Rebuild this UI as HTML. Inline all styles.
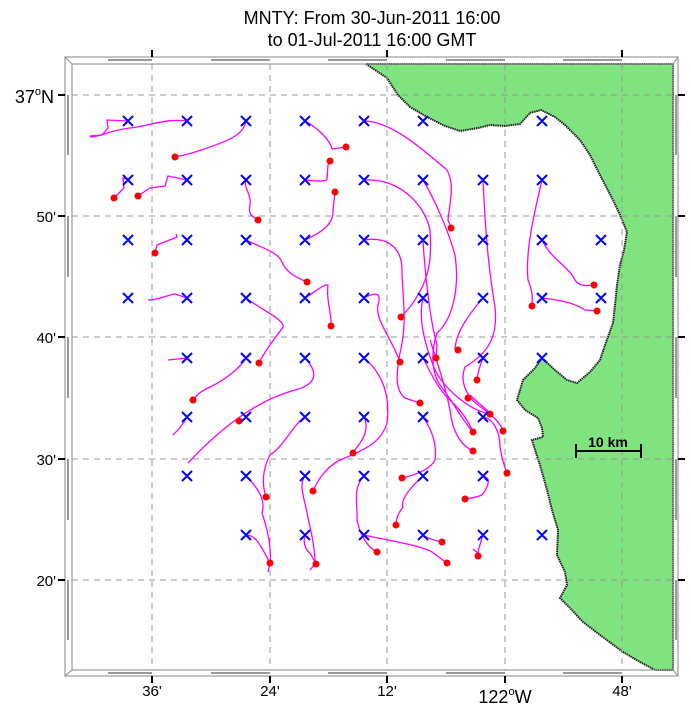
<!DOCTYPE html>
<html><head><meta charset="utf-8"><style>
body{margin:0;background:#fff;}
svg{display:block;font-family:"Liberation Sans",sans-serif;}
</style></head><body>
<svg width="691" height="710" viewBox="0 0 691 710" xmlns="http://www.w3.org/2000/svg">
<rect width="691" height="710" fill="#fff"/>
<text x="372" y="24" font-size="18" text-anchor="middle">MNTY: From 30-Jun-2011 16:00</text>
<text x="372" y="46" font-size="18" text-anchor="middle">to 01-Jul-2011 16:00 GMT</text>

<polygon fill="#7fe47f" stroke="#222" stroke-width="2" stroke-dasharray="1.5 0.7" points="366,64 375,70 387,78 398,95 410,107 427,117 445,126 460,131 478,128 490,125 505,126 520,124 530,113 541,110 555,117 565,125 580,140 590,155 600,175 613,200 620,215 627,232 624,250 620,265 617,285 615,305 613,323 605,345 600,360 590,372 577,383 567,380 555,370 542,358 535,368 523,380 517,400 525,410 538,418 542,428 543,437 532,440 535,450 540,465 547,490 552,510 558,530 557,555 565,572 567,585 560,598 570,608 583,622 600,635 623,652 640,662 655,670 673,670 673,64"/>

<g stroke="#999" stroke-width="1" stroke-dasharray="6 5" fill="none">
<line x1="152" y1="64" x2="152" y2="670"/><line x1="270" y1="64" x2="270" y2="670"/>
<line x1="387" y1="64" x2="387" y2="670"/><line x1="505" y1="64" x2="505" y2="670"/>
<line x1="622" y1="64" x2="622" y2="670"/>
<line x1="72" y1="95" x2="673" y2="95"/><line x1="72" y1="216" x2="673" y2="216"/>
<line x1="72" y1="337" x2="673" y2="337"/><line x1="72" y1="459" x2="673" y2="459"/>
<line x1="72" y1="580" x2="673" y2="580"/>
</g>

<g fill="none" stroke="#999" stroke-width="1.2">
<rect x="65" y="57" width="613" height="619"/>
<rect x="72" y="64" width="601" height="606"/>
<line x1="65" y1="57" x2="72" y2="64"/><line x1="678" y1="57" x2="673" y2="64"/>
<line x1="65" y1="676" x2="72" y2="670"/><line x1="678" y1="676" x2="673" y2="670"/>
</g>
<g stroke="#777" stroke-width="1.5">
<line x1="68" y1="95" x2="68" y2="155"/><line x1="68" y1="216" x2="68" y2="277"/><line x1="68" y1="337" x2="68" y2="398"/><line x1="68" y1="459" x2="68" y2="520"/><line x1="68" y1="580" x2="68" y2="640"/>
<line x1="676" y1="95" x2="676" y2="155"/><line x1="676" y1="216" x2="676" y2="277"/><line x1="676" y1="337" x2="676" y2="398"/><line x1="676" y1="459" x2="676" y2="520"/><line x1="676" y1="580" x2="676" y2="640"/>
<line x1="108" y1="60" x2="152" y2="60"/><line x1="211" y1="60" x2="270" y2="60"/><line x1="328" y1="60" x2="387" y2="60"/><line x1="446" y1="60" x2="505" y2="60"/><line x1="563" y1="60" x2="622" y2="60"/>
<line x1="108" y1="673" x2="152" y2="673"/><line x1="211" y1="673" x2="270" y2="673"/><line x1="328" y1="673" x2="387" y2="673"/><line x1="446" y1="673" x2="505" y2="673"/><line x1="563" y1="673" x2="622" y2="673"/>
</g>
<g stroke="#000" stroke-width="2">
<line x1="58" y1="95" x2="65" y2="95"/><line x1="58" y1="216" x2="65" y2="216"/><line x1="58" y1="337" x2="65" y2="337"/><line x1="58" y1="459" x2="65" y2="459"/><line x1="58" y1="580" x2="65" y2="580"/>
<line x1="678" y1="95" x2="685" y2="95"/><line x1="678" y1="216" x2="685" y2="216"/><line x1="678" y1="337" x2="685" y2="337"/><line x1="678" y1="459" x2="685" y2="459"/><line x1="678" y1="580" x2="685" y2="580"/>
<line x1="152" y1="50" x2="152" y2="57"/><line x1="387" y1="50" x2="387" y2="57"/><line x1="622" y1="50" x2="622" y2="57"/>
<line x1="152" y1="676" x2="152" y2="683"/><line x1="270" y1="676" x2="270" y2="683"/><line x1="387" y1="676" x2="387" y2="683"/><line x1="505" y1="676" x2="505" y2="683"/><line x1="622" y1="676" x2="622" y2="683"/>
</g>
<g font-size="15" text-anchor="end">
<text x="54" y="103" font-size="18">37<tspan font-size="11" dy="-8">o</tspan><tspan dy="8">N</tspan></text>
<text x="56" y="222">50'</text><text x="56" y="343">40'</text><text x="56" y="465">30'</text><text x="56" y="586">20'</text>
</g>
<g font-size="15" text-anchor="middle">
<text x="152" y="696">36'</text><text x="270" y="696">24'</text><text x="387" y="696">12'</text><text x="622" y="696">48'</text>
<text x="505" y="703" font-size="18">122<tspan font-size="11" dy="-8">o</tspan><tspan dy="8">W</tspan></text>
</g>

<g stroke="#000" stroke-width="2"><line x1="576" y1="451" x2="641" y2="451"/><line x1="576" y1="444" x2="576" y2="458"/><line x1="641" y1="444" x2="641" y2="458"/></g>
<text x="608" y="447" font-size="14" font-weight="bold" text-anchor="middle">10 km</text>

<g fill="none" stroke="#f0f" stroke-width="1.3">
<path d="M128,121 L107,120 L108,128 L102,135 L90,136"/>
<path d="M187,121 C165,118 150,126 130,128 S100,137 90,137"/>
<path d="M246,121 C244,134 230,140 210,147 S185,155 175,157"/>
<path d="M305,121 C318,128 330,140 332,149 L346,147"/>
<path d="M128,180 L123,178 L124,188 L114,198"/>
<path d="M187,180 L168,176 L165,186 L150,188 L138,196"/>
<path d="M246,180 C243,187 252,195 250,205 S252,216 258,220"/>
<path d="M305,180 C315,181 327,182 327,179 L328,165 L330,161"/>
<path d="M305,240 C320,233 334,225 333,210 L335,192"/>
<path d="M176,234 L177,237 L157,245 L155,253"/>
<path d="M246,240 C262,248 278,252 282,262 S295,277 307,282"/>
<path d="M305,298 C315,292 325,283 328,285 C326,300 332,315 331,326"/>
<path d="M148,300 C160,300 170,294 175,294 L187,298"/>
<path d="M246,298 C262,310 285,320 283,327 C278,335 268,345 259,363"/>
<path d="M168,360 L187,358"/>
<path d="M246,358 C240,368 225,380 210,387 S196,398 193,400"/>
<path d="M305,358 C318,372 318,384 295,390 C265,398 230,418 188,463"/>
<path d="M187,417 C183,425 178,430 173,435"/>
<path d="M364,121 C390,121 420,147 447,170 C455,185 450,200 448,220 L451,227"/>
<path d="M364,180 C400,178 425,205 430,230 C432,260 430,280 410,307 L401,317"/>
<path d="M423,180 C435,200 448,230 455,255 C460,290 452,320 437,333 C432,348 430,370 440,385 C452,400 462,420 473,432"/>
<path d="M364,240 C390,236 402,250 402,270 C402,295 408,320 400,353 C396,375 395,390 405,398 L420,403"/>
<path d="M364,298 C375,292 382,292 378,305 C375,320 390,335 400,362"/>
<path d="M423,240 C425,275 430,320 437,345 L436,358"/>
<path d="M423,298 C418,320 425,345 435,370 C445,390 470,410 489,414"/>
<path d="M483,180 C485,220 487,260 495,307 C498,335 490,352 465,367 C460,380 465,395 478,405 C492,415 500,422 503,431"/>
<path d="M483,298 C470,313 457,330 455,348 L458,350"/>
<path d="M483,358 C480,365 478,372 477,380"/>
<path d="M542,180 C535,210 525,250 528,280 C534,295 532,300 532,306"/>
<path d="M542,240 C550,258 570,268 575,280 C580,288 590,285 594,285"/>
<path d="M542,298 C560,300 575,303 585,310 L597,311"/>
<path d="M423,358 C432,375 438,390 453,403 C460,410 468,420 473,432"/>
<path d="M430,340 C438,365 445,385 450,410 C452,430 460,445 473,451"/>
<path d="M483,417 C492,418 500,430 500,447 C502,460 505,468 507,473"/>
<path d="M470,395 C480,405 488,410 490,414"/>
<path d="M305,417 C295,422 285,445 270,455 C262,470 262,485 266,497"/>
<path d="M364,417 C370,430 362,442 353,452"/>
<path d="M364,358 C385,375 390,400 387,423 C382,440 370,448 340,460 C325,468 318,480 313,491"/>
<path d="M246,476 C258,488 266,500 262,513 C266,525 272,545 270,563"/>
<path d="M246,535 C255,535 260,545 263,550 L270,563 L268,572"/>
<path d="M305,476 C298,485 305,500 307,513 C310,528 315,545 315,564 L310,570"/>
<path d="M305,535 C302,545 308,552 310,553 L316,564"/>
<path d="M364,476 C352,488 358,505 357,520 C360,535 368,548 377,552"/>
<path d="M364,535 C385,540 420,545 432,552 C440,558 445,562 447,563"/>
<path d="M423,476 C410,488 400,500 403,507 C397,515 396,520 396,525"/>
<path d="M423,417 C432,430 437,445 435,460 C430,470 415,475 402,478"/>
<path d="M423,535 C430,540 438,541 442,542"/>
<path d="M483,535 C480,545 478,550 478,553 L473,549"/>
<path d="M483,476 C492,478 488,487 482,495 C475,498 470,498 465,499"/>
</g>

<g fill="#f00">
<circle cx="175" cy="157" r="3.5"/><circle cx="346" cy="147" r="3.5"/><circle cx="114" cy="198" r="3.5"/><circle cx="138" cy="196" r="3.5"/>
<circle cx="258" cy="220" r="3.5"/><circle cx="330" cy="161" r="3.5"/><circle cx="335" cy="192" r="3.5"/><circle cx="451" cy="228" r="3.5"/>
<circle cx="155" cy="253" r="3.5"/><circle cx="307" cy="282" r="3.5"/><circle cx="331" cy="326" r="3.5"/><circle cx="401" cy="317" r="3.5"/>
<circle cx="436" cy="358" r="3.5"/><circle cx="458" cy="350" r="3.5"/><circle cx="532" cy="306" r="3.5"/><circle cx="594" cy="285" r="3.5"/>
<circle cx="597" cy="311" r="3.5"/><circle cx="259" cy="363" r="3.5"/><circle cx="193" cy="400" r="3.5"/><circle cx="239" cy="421" r="3.5"/>
<circle cx="400" cy="362" r="3.5"/><circle cx="420" cy="403" r="3.5"/><circle cx="477" cy="380" r="3.5"/><circle cx="468" cy="398" r="3.5"/>
<circle cx="490" cy="414" r="3.5"/><circle cx="473" cy="432" r="3.5"/><circle cx="503" cy="431" r="3.5"/><circle cx="473" cy="451" r="3.5"/>
<circle cx="507" cy="473" r="3.5"/><circle cx="353" cy="453" r="3.5"/><circle cx="313" cy="491" r="3.5"/><circle cx="266" cy="497" r="3.5"/>
<circle cx="465" cy="499" r="3.5"/><circle cx="402" cy="478" r="3.5"/><circle cx="396" cy="525" r="3.5"/><circle cx="442" cy="542" r="3.5"/>
<circle cx="377" cy="552" r="3.5"/><circle cx="270" cy="563" r="3.5"/><circle cx="316" cy="564" r="3.5"/><circle cx="447" cy="563" r="3.5"/>
<circle cx="478" cy="556" r="3.5"/>
</g>

<g stroke="#00f" stroke-width="2" fill="none">
<path d="M123,116l10,10m0,-10l-10,10M182,116l10,10m0,-10l-10,10M241,116l10,10m0,-10l-10,10M300,116l10,10m0,-10l-10,10M359,116l10,10m0,-10l-10,10M418,116l10,10m0,-10l-10,10M537,116l10,10m0,-10l-10,10"/>
<path d="M123,175l10,10m0,-10l-10,10M182,175l10,10m0,-10l-10,10M241,175l10,10m0,-10l-10,10M300,175l10,10m0,-10l-10,10M359,175l10,10m0,-10l-10,10M418,175l10,10m0,-10l-10,10M478,175l10,10m0,-10l-10,10M537,175l10,10m0,-10l-10,10"/>
<path d="M123,235l10,10m0,-10l-10,10M182,235l10,10m0,-10l-10,10M241,235l10,10m0,-10l-10,10M300,235l10,10m0,-10l-10,10M359,235l10,10m0,-10l-10,10M418,235l10,10m0,-10l-10,10M478,235l10,10m0,-10l-10,10M537,235l10,10m0,-10l-10,10M596,235l10,10m0,-10l-10,10"/>
<path d="M123,293l10,10m0,-10l-10,10M182,293l10,10m0,-10l-10,10M241,293l10,10m0,-10l-10,10M300,293l10,10m0,-10l-10,10M359,293l10,10m0,-10l-10,10M418,293l10,10m0,-10l-10,10M478,293l10,10m0,-10l-10,10M537,293l10,10m0,-10l-10,10M596,293l10,10m0,-10l-10,10"/>
<path d="M182,353l10,10m0,-10l-10,10M241,353l10,10m0,-10l-10,10M300,353l10,10m0,-10l-10,10M359,353l10,10m0,-10l-10,10M418,353l10,10m0,-10l-10,10M478,353l10,10m0,-10l-10,10M537,353l10,10m0,-10l-10,10"/>
<path d="M182,412l10,10m0,-10l-10,10M241,412l10,10m0,-10l-10,10M300,412l10,10m0,-10l-10,10M359,412l10,10m0,-10l-10,10M418,412l10,10m0,-10l-10,10M478,412l10,10m0,-10l-10,10"/>
<path d="M182,471l10,10m0,-10l-10,10M241,471l10,10m0,-10l-10,10M300,471l10,10m0,-10l-10,10M359,471l10,10m0,-10l-10,10M418,471l10,10m0,-10l-10,10M478,471l10,10m0,-10l-10,10"/>
<path d="M241,530l10,10m0,-10l-10,10M300,530l10,10m0,-10l-10,10M359,530l10,10m0,-10l-10,10M418,530l10,10m0,-10l-10,10M478,530l10,10m0,-10l-10,10M537,530l10,10m0,-10l-10,10"/>
</g>
</svg>
</body></html>
